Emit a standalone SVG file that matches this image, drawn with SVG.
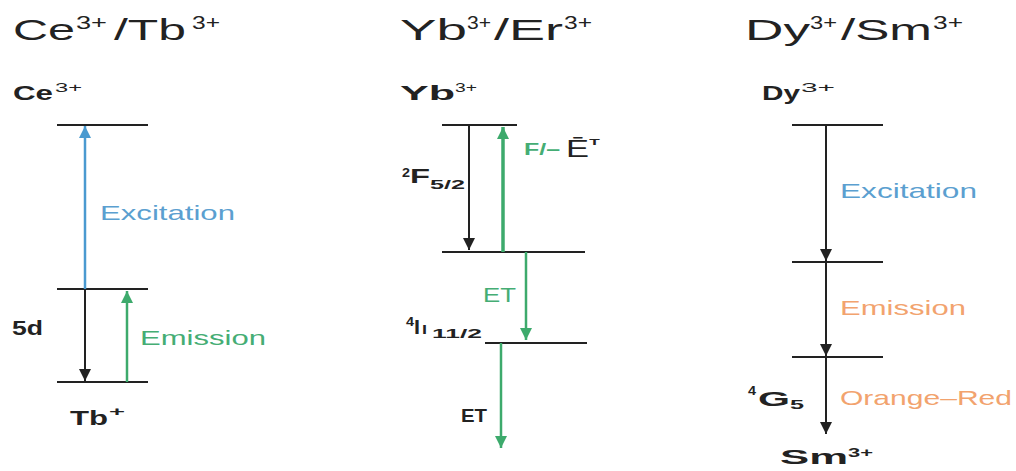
<svg xmlns="http://www.w3.org/2000/svg" width="1016" height="471" viewBox="0 0 1016 471">
<style>
text{font-family:"Liberation Sans",Arial,sans-serif;fill:#222}
.t{font-size:30px}
.ts{font-size:18px}
.s{font-size:21px}
.ss{font-size:13px}
.b{font-weight:bold}
.lvl{stroke:#222;stroke-width:2;fill:none}
.blue{fill:#5b9fd0}
.green{fill:#45ad74}
.orange{fill:#f2a36e}
</style>
<defs>
<marker id="ak" markerUnits="userSpaceOnUse" markerWidth="14" markerHeight="12" viewBox="0 0 14 12" refX="12" refY="6" orient="auto"><path d="M0,0 L12,6 L0,12 Z" fill="#222"/></marker>
<marker id="ab" markerUnits="userSpaceOnUse" markerWidth="14" markerHeight="12" viewBox="0 0 14 12" refX="12" refY="6" orient="auto"><path d="M0,0 L12,6 L0,12 Z" fill="#4a9ad0"/></marker>
<marker id="ag" markerUnits="userSpaceOnUse" markerWidth="14" markerHeight="12" viewBox="0 0 14 12" refX="12" refY="6" orient="auto"><path d="M0,0 L12,6 L0,12 Z" fill="#3daa6c"/></marker>
</defs>
<rect width="1016" height="471" fill="#fff"/>

<!-- Panel 1 -->
<g id="title-ce-tb">
<text class="t" x="13" y="40" textLength="62" lengthAdjust="spacingAndGlyphs">Ce</text>
<text class="ts" x="76" y="29" textLength="31" lengthAdjust="spacingAndGlyphs">3+</text>
<text class="t" x="114" y="40" textLength="72" lengthAdjust="spacingAndGlyphs">/Tb</text>
<text class="ts" x="192" y="29" textLength="28" lengthAdjust="spacingAndGlyphs">3+</text>
</g>
<g id="label-ce">
<text class="s b" x="13" y="100" textLength="40" lengthAdjust="spacingAndGlyphs">Ce</text>
<text class="ss" x="55" y="92" textLength="27" lengthAdjust="spacingAndGlyphs">3+</text>
</g>
<g id="ce-top"><line class="lvl" x1="57" y1="125" x2="148" y2="125"/></g>
<g id="ce-mid"><line class="lvl" x1="57" y1="289" x2="148" y2="289"/><text class="s b" x="12" y="335" textLength="31" lengthAdjust="spacingAndGlyphs">5d</text></g>
<g id="ce-bottom"><line class="lvl" x1="57" y1="382" x2="148" y2="382"/></g>
<g id="label-tb">
<text class="s b" x="70" y="425" textLength="38" lengthAdjust="spacingAndGlyphs">Tb</text>
<text class="ss b" x="109" y="416" textLength="16" lengthAdjust="spacingAndGlyphs">+</text>
</g>
<g id="text-excitation-1"><text class="s blue" x="100" y="220" textLength="135" lengthAdjust="spacingAndGlyphs">Excitation</text></g>
<g id="text-emission-1"><text class="s green" x="140" y="345" textLength="126" lengthAdjust="spacingAndGlyphs">Emission</text></g>

<!-- Panel 2 -->
<g id="title-yb-er">
<text class="t" x="400" y="40" textLength="67" lengthAdjust="spacingAndGlyphs">Yb</text>
<text class="ts" x="467" y="29" textLength="24" lengthAdjust="spacingAndGlyphs">3+</text>
<text class="t" x="494" y="40" textLength="69" lengthAdjust="spacingAndGlyphs">/Er</text>
<text class="ts" x="564" y="29" textLength="28" lengthAdjust="spacingAndGlyphs">3+</text>
</g>
<g id="label-yb">
<text class="s b" x="400" y="100" textLength="55" lengthAdjust="spacingAndGlyphs">Yb</text>
<text class="ss" x="455" y="92" textLength="22" lengthAdjust="spacingAndGlyphs">3+</text>
</g>
<g id="yb-top"><line class="lvl" x1="442" y1="125" x2="517" y2="125"/>
<text class="ss b" x="402" y="177" textLength="8" lengthAdjust="spacingAndGlyphs">2</text>
<text class="s b" x="410" y="183" textLength="20" lengthAdjust="spacingAndGlyphs">F</text>
<text class="ss b" x="430" y="189" textLength="35" lengthAdjust="spacingAndGlyphs">5/2</text>
</g>
<g id="yb-mid"><line class="lvl" x1="442" y1="252" x2="585" y2="252"/></g>
<g id="er-level"><line class="lvl" x1="485" y1="343" x2="587" y2="343"/>
<text class="ss b" x="406" y="326" textLength="8" lengthAdjust="spacingAndGlyphs">4</text>
<text class="s b" x="414" y="334" textLength="6" lengthAdjust="spacingAndGlyphs">I</text>
<text class="ss b" x="422" y="334" textLength="5" lengthAdjust="spacingAndGlyphs">I</text>
<text class="ss b" x="432" y="338" textLength="50" lengthAdjust="spacingAndGlyphs">11/2</text>
</g>
<g id="text-fe">
<text class="green b" x="524" y="155" font-size="16" textLength="36" lengthAdjust="spacingAndGlyphs">F/–</text>
<text x="566" y="157" font-size="23" textLength="23" lengthAdjust="spacingAndGlyphs" fill="#333">Ē</text>
<text class="ss b" x="589" y="148" textLength="11" lengthAdjust="spacingAndGlyphs">ᵀ</text>
</g>
<g id="text-et-1"><text class="s green" x="483" y="302" textLength="33" lengthAdjust="spacingAndGlyphs">ET</text></g>
<g id="text-et-2"><text class="b" x="461" y="422" font-size="19" textLength="26" lengthAdjust="spacingAndGlyphs">ET</text></g>

<!-- Panel 3 -->
<g id="title-dy-sm">
<text class="t" x="745" y="40" textLength="65" lengthAdjust="spacingAndGlyphs">Dy</text>
<text class="ts" x="810" y="29" textLength="27" lengthAdjust="spacingAndGlyphs">3+</text>
<text class="t" x="841" y="40" textLength="91" lengthAdjust="spacingAndGlyphs">/Sm</text>
<text class="ts" x="933" y="29" textLength="30" lengthAdjust="spacingAndGlyphs">3+</text>
</g>
<g id="label-dy">
<text class="s b" x="762" y="100" textLength="38" lengthAdjust="spacingAndGlyphs">Dy</text>
<text class="ss" x="801" y="92" textLength="34" lengthAdjust="spacingAndGlyphs">3+</text>
</g>
<g id="dy-top"><line class="lvl" x1="792" y1="125" x2="883" y2="125"/></g>
<g id="dy-mid"><line class="lvl" x1="792" y1="262" x2="883" y2="262"/></g>
<g id="dy-low"><line class="lvl" x1="792" y1="357" x2="883" y2="357"/>
<text class="ss b" x="748" y="395" textLength="8" lengthAdjust="spacingAndGlyphs">4</text>
<text class="s b" x="758" y="406" textLength="32" lengthAdjust="spacingAndGlyphs">G</text>
<text class="ss b" x="790" y="409" textLength="14" lengthAdjust="spacingAndGlyphs">5</text>
</g>
<g id="label-sm">
<text class="s b" x="780" y="464" textLength="68" lengthAdjust="spacingAndGlyphs">Sm</text>
<text class="ss b" x="848" y="457" textLength="25" lengthAdjust="spacingAndGlyphs">3+</text>
</g>
<g id="text-excitation-3"><text class="s blue" x="840" y="198" textLength="137" lengthAdjust="spacingAndGlyphs">Excitation</text></g>
<g id="text-emission-3"><text class="s orange" x="840" y="315" textLength="126" lengthAdjust="spacingAndGlyphs">Emission</text></g>
<g id="text-orange-red"><text class="s orange" x="840" y="405" textLength="172" lengthAdjust="spacingAndGlyphs">Orange–Red</text></g>

<!-- Connectors -->
<g id="connectors" fill="none">
<line x1="85" y1="289" x2="85" y2="126" stroke="#4a9ad0" stroke-width="2.5" marker-end="url(#ab)"/>
<line x1="85" y1="289" x2="85" y2="381" stroke="#222" stroke-width="2" marker-end="url(#ak)"/>
<line x1="127" y1="382" x2="127" y2="291" stroke="#3daa6c" stroke-width="2.5" marker-end="url(#ag)"/>
<line x1="469" y1="125" x2="469" y2="250" stroke="#222" stroke-width="2" marker-end="url(#ak)"/>
<line x1="503" y1="252" x2="503" y2="127" stroke="#3daa6c" stroke-width="3.5" marker-end="url(#ag)"/>
<line x1="526" y1="252" x2="526" y2="340" stroke="#3daa6c" stroke-width="2.5" marker-end="url(#ag)"/>
<line x1="501" y1="343" x2="501" y2="448" stroke="#3daa6c" stroke-width="2.5" marker-end="url(#ag)"/>
<line x1="826" y1="125" x2="826" y2="261" stroke="#222" stroke-width="2" marker-end="url(#ak)"/>
<line x1="826" y1="262" x2="826" y2="356" stroke="#222" stroke-width="2" marker-end="url(#ak)"/>
<line x1="826" y1="357" x2="826" y2="434" stroke="#222" stroke-width="2" marker-end="url(#ak)"/>
</g>
</svg>
